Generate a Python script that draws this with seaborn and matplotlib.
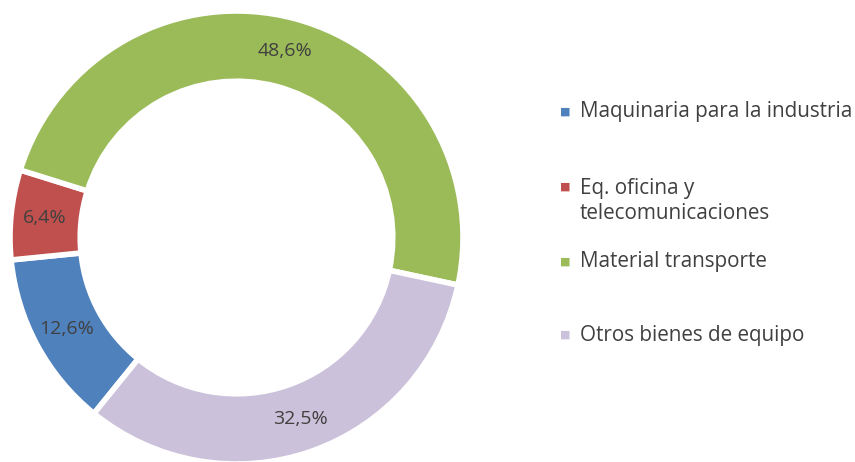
import matplotlib
matplotlib.use("Agg")
import matplotlib.pyplot as plt
import seaborn as sns

categories = ["Maquinaria para la industria", "Eq. oficina y\ntelecomunicaciones",
              "Material transporte", "Otros bienes de equipo"]
values = [12.6, 6.4, 48.6, 32.5]
colors = ["#4F81BD", "#C0504D", "#9BBB59", "#CCC1DA"]

sns.set_theme(style="white")
plt.rcParams["font.family"] = ["Open Sans", "DejaVu Sans"]
text_color = "#404040"

W, H = 855, 462
fig = plt.figure(figsize=(W / 100, H / 100), dpi=100)
# donut: centre ~ (236.5, 237.5) px, outer radius ~226.5 px
ax = fig.add_axes([10 / W, -2 / H, 453 / W, 453 / H])

wedges, texts, autotexts = ax.pie(
    values, colors=colors, startangle=-129, counterclock=False,
    autopct="%1.1f", pctdistance=0.85,
    wedgeprops=dict(width=0.31, edgecolor="white", linewidth=4),
    textprops=dict(color=text_color, fontsize=14),
)
for t, v in zip(autotexts, values):
    t.set_text(f"{v:.1f}%".replace(".", ","))
ax.set_aspect("equal")
ax.set_xlim(-1, 1)
ax.set_ylim(-1, 1)
ax.axis("off")

# legend entries (Excel-style, uneven vertical spacing)
legend_y = [112, 201, 262, 335]
for label, color, y in zip(categories, colors, legend_y):
    first_y = y - 14 if "\n" in label else y
    fig.text(565 / W, 1 - first_y / H, "\u25A0", color=color, fontsize=8,
             ha="center", va="center", family="DejaVu Sans")
    fig.text(580 / W, 1 - y / H, label, color=text_color, fontsize=14.9,
             ha="left", va="center", linespacing=1.3)

fig.savefig("out.png", dpi=100)
